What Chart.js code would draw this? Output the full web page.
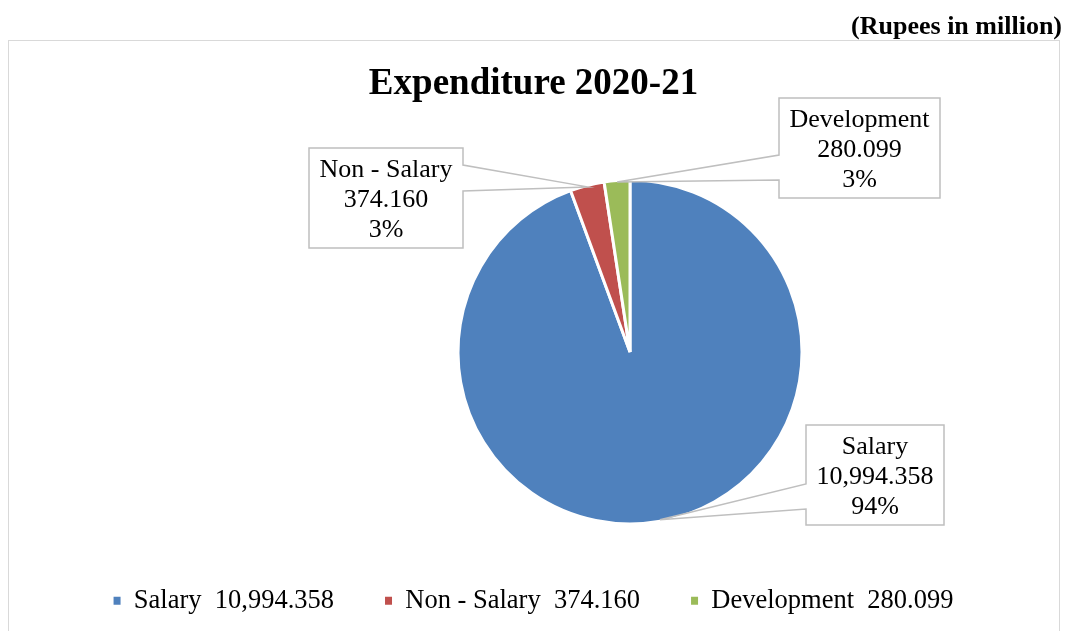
<!DOCTYPE html>
<html>
<head>
<meta charset="utf-8">
<script src="https://cdn.jsdelivr.net/npm/chart.js@4.4.1/dist/chart.umd.min.js"></script>
<style>
html, body { margin: 0; padding: 0; background: #fff; overflow: hidden; }
#wrap { position: relative; width: 1067px; height: 631px; }
</style>
</head>
<body>
<div id="wrap"><canvas id="expenditure-canvas"></canvas></div>
<script>
var categories = ['Salary', 'Non - Salary', 'Development'];
var amounts = [10994.358, 374.160, 280.099];
var shareLabels = ['94%', '3%', '3%'];
var sliceColors = ['#4F81BD', '#C0504D', '#9BBB59'];

var serif = "'Liberation Serif', 'Times New Roman', serif";

function fmt(v) {
    return v.toLocaleString('en-US', { minimumFractionDigits: 3, maximumFractionDigits: 3 });
}

// where the pie sits on the page
var pieX = 630, pieY = 352, pieR = 173.5;

// callout boxes: top-left corner, which side the pointer leaves from, notch offsets
var callouts = [
    { left: 806, top: 425, side: 'left', n1: 59, n2: 84 },
    { left: 309, top: 148, side: 'right', n1: 17, n2: 43 },
    { left: 779, top: 98, side: 'left', n1: 57, n2: 82 }
];

var placePie = {
    id: 'placePie',
    afterLayout: function(chart) {
        var a = chart.chartArea;
        a.left = pieX - pieR; a.right = pieX + pieR;
        a.top = pieY - pieR; a.bottom = pieY + pieR;
        a.width = pieR * 2; a.height = pieR * 2;
    }
};

var frame = {
    id: 'frame',
    beforeDraw: function(chart) {
        var ctx = chart.ctx;
        ctx.save();
        ctx.strokeStyle = '#d9d9d9';
        ctx.lineWidth = 1;
        ctx.strokeRect(8.5, 40.5, 1051, 640);
        ctx.fillStyle = '#000';
        ctx.font = 'bold 26px ' + serif;
        ctx.textAlign = 'right';
        ctx.textBaseline = 'middle';
        ctx.fillText('(Rupees in million)', 1062, 27);
        ctx.restore();
    }
};

var dataCallouts = {
    id: 'dataCallouts',
    afterDatasetsDraw: function(chart) {
        var ctx = chart.ctx;
        var arcs = chart.getDatasetMeta(0).data;
        ctx.save();
        ctx.font = '26px ' + serif;
        arcs.forEach(function(arc, i) {
            var p = arc.getProps(['x', 'y', 'startAngle', 'endAngle', 'outerRadius'], true);
            var mid = (p.startAngle + p.endAngle) / 2;
            var ax = p.x + Math.cos(mid) * (p.outerRadius - 1.5);
            var ay = p.y + Math.sin(mid) * (p.outerRadius - 1.5);
            var lines = [categories[i], fmt(amounts[i]), shareLabels[i]];
            var w = 0;
            lines.forEach(function(t) { w = Math.max(w, ctx.measureText(t).width); });
            w = Math.round(w + 21);
            var c = callouts[i];
            var l = c.left, t = c.top, r = l + w, b = t + 100;

            ctx.fillStyle = '#fff';
            ctx.fillRect(l, t, w, 100);

            ctx.beginPath();
            if (c.side === 'left') {
                ctx.moveTo(l, t);
                ctx.lineTo(r, t);
                ctx.lineTo(r, b);
                ctx.lineTo(l, b);
                ctx.lineTo(l, t + c.n2);
                ctx.lineTo(ax, ay);
                ctx.lineTo(l, t + c.n1);
            } else {
                ctx.moveTo(l, t);
                ctx.lineTo(r, t);
                ctx.lineTo(r, t + c.n1);
                ctx.lineTo(ax, ay);
                ctx.lineTo(r, t + c.n2);
                ctx.lineTo(r, b);
                ctx.lineTo(l, b);
            }
            ctx.closePath();
            ctx.strokeStyle = '#bfbfbf';
            ctx.lineWidth = 1.5;
            ctx.stroke();

            ctx.fillStyle = '#000';
            ctx.textAlign = 'center';
            ctx.textBaseline = 'middle';
            lines.forEach(function(txt, k) {
                ctx.fillText(txt, (l + r) / 2, t + 22 + k * 30);
            });
        });
        ctx.restore();
    }
};

var ctx = document.getElementById('expenditure-canvas').getContext('2d');

var expenditureChart = new Chart(ctx, {
    type: 'pie',
    data: {
        labels: categories,
        datasets: [{
            data: amounts,
            backgroundColor: sliceColors,
            borderColor: '#ffffff',
            borderWidth: 3
        }]
    },
    options: {
        responsive: true,
        maintainAspectRatio: false,
        animation: false,
        layout: { padding: { bottom: 7 } },
        plugins: {
            title: {
                display: true,
                text: 'Expenditure 2020-21',
                color: '#000',
                font: { family: serif, size: 37, weight: 'bold' },
                padding: { top: 62, bottom: 0 }
            },
            legend: {
                position: 'bottom',
                labels: {
                    boxWidth: 7,
                    boxHeight: 8,
                    padding: 51,
                    color: '#000',
                    font: { family: serif, size: 26.5 },
                    generateLabels: function(chart) {
                        return categories.map(function(name, i) {
                            return {
                                text: name + '  ' + fmt(amounts[i]),
                                fillStyle: sliceColors[i],
                                strokeStyle: sliceColors[i],
                                lineWidth: 0,
                                index: i
                            };
                        });
                    }
                }
            },
            tooltip: { enabled: false }
        }
    },
    plugins: [placePie, frame, dataCallouts]
});
</script>
</body>
</html>
